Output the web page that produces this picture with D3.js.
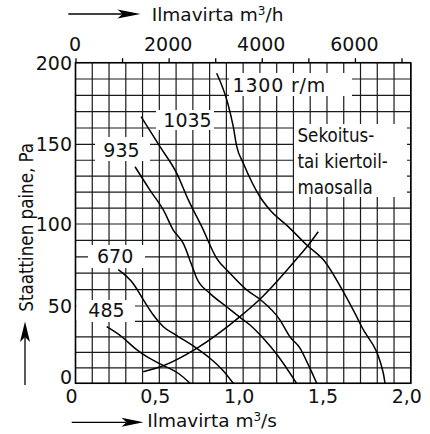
<!DOCTYPE html>
<html><head><meta charset="utf-8">
<script src="https://cdn.jsdelivr.net/npm/d3@7"></script>
<style>html,body{margin:0;padding:0;background:#fff}</style>
</head><body><svg id="c" width="430" height="434" xmlns="http://www.w3.org/2000/svg"></svg>
<script>
// ---- data ----
const flowTicks = [0, 0.5, 1.0, 1.5, 2.0];
const flowTickLabels = ["0", "0,5", "1,0", "1,5", "2,0"];
const hourTicks = [0, 2000, 4000, 6000];
const hourTickLabels = ["0", "2000", "4000", "6000"];
const pressureTicks = [0, 50, 100, 150, 200];
const pressureTickLabels = ["0", "50", "100", "150", "200"];

const flow485 = [0.186, 0.276, 0.355, 0.425, 0.528, 0.613, 0.683];
const pres485 = [36.6, 30.1, 22.6, 17.2, 11.3, 6.5, 0];
const flow670 = [0.255, 0.345, 0.404, 0.464, 0.524, 0.604, 0.723, 0.802, 0.877, 0.941];
const pres670 = [72.2, 63.6, 53.9, 44.2, 36.6, 30.9, 22.6, 16.2, 8.6, 0];
const flow935 = [0.355, 0.444, 0.524, 0.583, 0.643, 0.693, 0.723, 0.802, 0.902, 0.981, 1.041, 1.120, 1.208, 1.319];
const pres935 = [135.9, 121.3, 108.8, 96.3, 88.2, 75.0, 66.9, 57.7, 49.5, 42.7, 37.7, 29.1, 17.7, 0];
const flow1035 = [0.391, 0.504, 0.604, 0.673, 0.753, 0.842, 0.922, 1.021, 1.100, 1.220, 1.279, 1.339, 1.389, 1.439];
const pres1035 = [166.9, 148.5, 131.8, 115.1, 98.4, 79.1, 69.9, 59.8, 54.1, 40.9, 30.1, 22.8, 11.9, 0];
const flow1300 = [0.842, 0.911, 0.941, 0.962, 1.001, 1.100, 1.160, 1.269, 1.379, 1.488, 1.597, 1.707, 1.836, 1.846];
const pres1300 = [193.5, 174.1, 160.8, 148.5, 138.1, 117.1, 108.8, 98.4, 87.2, 77.0, 58.7, 36.6, 6.5, 0];
const flowSystem = [0.404, 0.524, 0.723, 0.981, 1.100, 1.339, 1.389, 1.448];
const presSystem = [7.5, 11.4, 22.6, 43.1, 54.1, 81.1, 87.2, 95.3];

const speedLabels = ["485", "670", "935", "1035", "1300 r/m"];
const noteLines = ["Sekoitus-", "tai kiertoil-", "maosalla"];

// ---- drawing ----
const svg = d3.select("#c");
const NUM = "DejaVu Sans";
const COND = "DejaVu Sans Condensed";

const x = d3.scaleLinear().domain([0, 2]).range([75.5, 410.8]);
const xh = d3.scaleLinear().domain([0, 7200]).range([75.5, 410.8]);
const y = d3.scaleLinear().domain([0, 50, 100, 150, 200]).range([383.3, 306, 224, 144.3, 62.7]);

// grid
const grid = svg.append("g").attr("stroke", "#1a1a1a").attr("stroke-width", 1.2);
d3.range(0, 21).map(i => i / 10).forEach(v => {
  grid.append("line").attr("x1", x(v)).attr("x2", x(v)).attr("y1", y(0)).attr("y2", y(200));
});
d3.range(0, 21).map(i => i * 10).forEach(v => {
  grid.append("line").attr("x1", x(0)).attr("x2", x(2)).attr("y1", y(v)).attr("y2", y(v));
});
// frame
svg.append("rect").attr("x", x(0)).attr("y", y(200)).attr("width", x(2) - x(0)).attr("height", y(0) - y(200))
  .attr("fill", "none").attr("stroke", "#000").attr("stroke-width", 1.5);

// top axis (m3/h)
const topAxis = svg.append("g").attr("transform", `translate(0,${y(200)})`)
  .call(d3.axisTop(xh).tickValues(d3.range(0, 7001, 1000)).tickSize(4.5)
    .tickFormat(d => { const i = hourTicks.indexOf(d); return i >= 0 ? hourTickLabels[i] : ""; }));
topAxis.select(".domain").remove();
topAxis.selectAll(".tick line").attr("stroke", "#000").attr("stroke-width", 1.3);
topAxis.selectAll("text").attr("y", -12).attr("dy", 0).attr("dx", -1)
  .attr("font-family", NUM).attr("font-size", 19).attr("fill", "#111");

// bottom axis (m3/s)
const botAxis = svg.append("g").attr("transform", `translate(0,${y(0)})`)
  .call(d3.axisBottom(x).tickValues(flowTicks).tickSize(0).tickFormat((d, i) => flowTickLabels[i]));
botAxis.select(".domain").remove();
botAxis.selectAll("text").attr("y", 19.4).attr("dy", 0).attr("dx", -4.5)
  .attr("font-family", NUM).attr("font-size", 19).attr("fill", "#111");

// left axis
const leftAxis = svg.append("g").attr("transform", `translate(${x(0)},0)`)
  .call(d3.axisLeft(y).tickValues(pressureTicks).tickSize(0).tickPadding(3.5).tickFormat((d, i) => pressureTickLabels[i]));
leftAxis.select(".domain").remove();
leftAxis.selectAll("text").attr("font-family", NUM).attr("font-size", 19).attr("fill", "#111")
  .attr("dy", d => d === 0 ? "0" : "0.35em");

// label boxes (white, hide grid)
const boxes = [
  [76.5, 300, 58.5, 22],   // 485
  [88, 245, 57, 23],       // 670
  [95, 137, 55, 24],       // 935
  [156, 110, 58, 20],      // 1035
  [229, 73, 123, 23],      // 1300
  [294, 124, 113, 73]      // note
];
svg.append("g").selectAll("rect").data(boxes).join("rect")
  .attr("x", d => d[0]).attr("y", d => d[1]).attr("width", d => d[2]).attr("height", d => d[3])
  .attr("fill", "#fff");

// curves
const line = d3.line().x(d => x(d[0])).y(d => y(d[1])).curve(d3.curveMonotoneX);
const series = [
  [flow485, pres485], [flow670, pres670], [flow935, pres935],
  [flow1035, pres1035], [flow1300, pres1300], [flowSystem, presSystem]
];
svg.append("g").selectAll("path").data(series).join("path")
  .attr("d", s => line(s[0].map((f, i) => [f, s[1][i]])))
  .attr("fill", "none").attr("stroke", "#000").attr("stroke-width", 1.5);

// speed labels
const labelPos = [[88.3, 317.3], [97, 263.3], [103.3, 157.3], [163.3, 127.3], [232.5, 91.7]];
svg.append("g").selectAll("text").data(speedLabels).join("text")
  .attr("x", (d, i) => labelPos[i][0]).attr("y", (d, i) => labelPos[i][1])
  .attr("font-family", NUM).attr("font-size", 19).attr("fill", "#111")
  .attr("letter-spacing", (d, i) => i === 4 ? 0.8 : 0)
  .text(d => d);

// note
const noteBase = [141.5, 168, 194];
svg.append("g").selectAll("text").data(noteLines).join("text")
  .attr("x", 297.5).attr("y", (d, i) => noteBase[i])
  .attr("font-family", COND).attr("font-size", 18.6).attr("fill", "#111")
  .text(d => d);

// axis titles
function title(xp, yp, unit) {
  const t = svg.append("text").attr("x", xp).attr("y", yp)
    .attr("font-family", NUM).attr("font-size", 18.5).attr("fill", "#111");
  t.append("tspan").text("Ilmavirta m");
  t.append("tspan").attr("font-size", 12).attr("dy", -5.5).text("3");
  t.append("tspan").attr("dy", 5.5).text("/" + unit);
}
title(151.7, 20.7, "h");
title(147.3, 426.7, "s");

svg.append("text").attr("transform", "translate(32.7,311.7) rotate(-90)")
  .attr("font-family", COND).attr("font-size", 18.6).attr("fill", "#111")
  .text("Staattinen paine, Pa");

// arrows
const arrows = svg.append("g");
arrows.append("path").attr("d", "M68.3,14H124").attr("stroke", "#000").attr("stroke-width", 1.3);
arrows.append("path").attr("d", "M140.5,14L117.5,9.5L122.5,14L117.5,18.5Z").attr("fill", "#000");
arrows.append("path").attr("d", "M71.7,422.3H126").attr("stroke", "#000").attr("stroke-width", 1.3);
arrows.append("path").attr("d", "M143.5,422.3L121.5,417.8L126.5,422.3L121.5,426.8Z").attr("fill", "#000");
arrows.append("path").attr("d", "M25,385V336").attr("stroke", "#000").attr("stroke-width", 1.3);
arrows.append("path").attr("d", "M25,321.5L20,342L25,337L30,342Z").attr("fill", "#000");
</script>
</body></html>
